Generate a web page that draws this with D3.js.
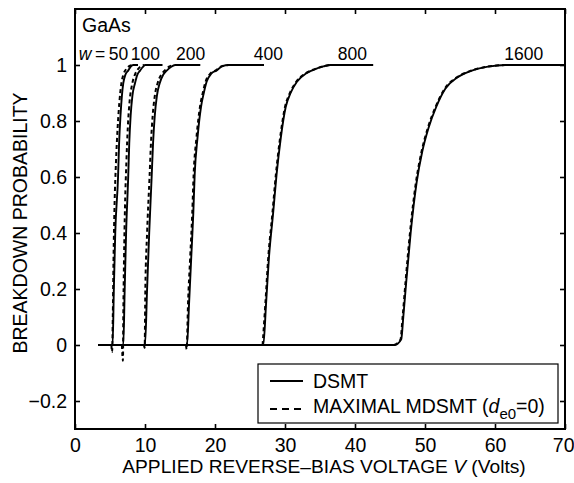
<!DOCTYPE html>
<html><head><meta charset="utf-8">
<script src="https://cdn.jsdelivr.net/npm/d3@7"></script>
<style>
body{margin:0;background:#fff;}
text{font-family:"Liberation Sans",Arial,Helvetica,sans-serif;fill:#000;}
</style></head>
<body><svg id="c" width="574" height="483"></svg>
<script>
// ---- data ----
const widths = ["50","100","200","400","800","1600"];
const labelEndV = [7.6, 12.15, 18.6, 29.7, 41.7, 66.9];
const xTicks = [0,10,20,30,40,50,60,70];
const yTicks = [-0.2,0,0.2,0.4,0.6,0.8,1];

// DSMT (solid)
const s50  = [[3.3,0],[5.37,0],[5.55,0.2],[5.75,0.4],[6.15,0.6],[6.3,0.72],[6.5,0.82],[6.7,0.89],[6.9,0.935],[7.2,0.965],[7.6,0.98],[8.0,0.995],[8.3,1],[9.0,1]];
const s100 = [[3.3,0],[6.9,0],[7.1,0.2],[7.3,0.4],[7.6,0.6],[7.75,0.72],[7.95,0.82],[8.2,0.89],[8.57,0.935],[8.9,0.965],[9.3,0.98],[9.7,0.993],[10.0,1],[12.5,1]];
const s200 = [[3.3,0],[10.0,0],[10.3,0.2],[10.6,0.4],[10.95,0.6],[11.15,0.72],[11.4,0.82],[11.7,0.89],[12.1,0.935],[12.6,0.965],[13.1,0.98],[13.7,0.993],[14.3,1],[17.9,1]];
const s400 = [[3.3,0],[16.0,0],[16.3,0.15],[16.6,0.31],[16.9,0.47],[17.1,0.61],[17.5,0.74],[18.0,0.85],[18.4,0.9],[18.8,0.94],[19.5,0.97],[20.2,0.98],[21.0,0.995],[22.0,1],[27.0,1]];
const s800 = [[3.3,0],[26.9,0],[27.3,0.15],[27.7,0.31],[28.3,0.47],[28.8,0.61],[29.4,0.74],[30.1,0.85],[30.8,0.9],[31.7,0.94],[33.0,0.97],[34.0,0.982],[35.5,0.995],[36.5,1],[42.6,1]];
const s1600= [[3.3,0],[45.7,0],[46.6,0.02],[46.9,0.1],[47.3,0.22],[47.95,0.4],[48.8,0.58],[49.6,0.69],[50.5,0.775],[51.6,0.85],[52.9,0.915],[54.6,0.955],[56.5,0.978],[59.0,0.994],[61.5,1],[70,1]];

// Maximal MDSMT (dashed)
const d50  = [[5.2,0],[5.3,-0.025],[5.4,0.1],[5.5,0.3],[5.65,0.5],[5.85,0.65],[6.1,0.78],[6.35,0.87],[6.6,0.93],[6.9,0.965],[7.3,0.985],[7.8,0.997],[8.2,1]];
const d100 = [[6.7,0],[6.85,-0.056],[6.9,0.1],[7.0,0.3],[7.15,0.5],[7.35,0.66],[7.55,0.78],[7.8,0.87],[8.15,0.93],[8.55,0.965],[9.0,0.985],[9.5,0.997],[9.9,1]];
const d200 = [[9.85,0],[9.95,-0.01],[10.05,0.2],[10.3,0.4],[10.65,0.6],[10.85,0.72],[11.1,0.82],[11.4,0.89],[11.8,0.935],[12.3,0.965],[12.8,0.98],[13.5,0.995],[14.1,1]];
const d400 = [[15.85,0],[15.95,-0.015],[16.15,0.15],[16.45,0.31],[16.75,0.47],[16.95,0.61],[17.35,0.74],[17.85,0.85],[18.25,0.9],[18.65,0.94],[19.35,0.97],[20.05,0.98],[20.9,0.995],[21.9,1]];
const d800 = [[26.8,0],[27.2,0.15],[27.6,0.31],[28.2,0.47],[28.7,0.61],[29.3,0.74],[30.0,0.85],[30.7,0.9],[31.6,0.94],[32.9,0.97],[33.9,0.982],[35.4,0.995],[36.4,1]];
const d1600= [[45.6,0],[46.5,0.02],[46.8,0.1],[47.2,0.22],[47.85,0.4],[48.7,0.58],[49.5,0.69],[50.4,0.775],[51.5,0.85],[52.8,0.915],[54.5,0.955],[56.4,0.978],[58.9,0.994],[61.4,1]];

const solidSeries = [s50,s100,s200,s400,s800,s1600];
const dashedSeries = [d50,d100,d200,d400,d800,d1600];

// ---- drawing ----
const svg = d3.select("#c");
const L=75,R=565,T=9,B=429;
const x = d3.scaleLinear().domain([0,70]).range([L,R]);
const y = d3.scaleLinear().domain([-0.3,1.2]).range([B,T]);
const FS = 19.5;

const line = d3.line().x(d=>x(d[0])).y(d=>y(d[1])).curve(d3.curveMonotoneX);

const plot = svg.append("g");
solidSeries.forEach(s=>{
  plot.append("path").attr("d",line(s)).attr("fill","none")
    .attr("stroke","#000").attr("stroke-width",1.9).attr("stroke-linejoin","round");
});
dashedSeries.forEach(s=>{
  plot.append("path").attr("d",line(s)).attr("fill","none")
    .attr("stroke","#000").attr("stroke-width",2).attr("stroke-dasharray","4,3");
});

// axes (ticks inward, mirrored)
const tl = 5;
const ax = svg.append("g");
const bx = ax.append("g").attr("transform",`translate(0,${B})`)
  .call(d3.axisBottom(x).tickValues(xTicks).tickSize(-tl).tickPadding(9).tickFormat(d3.format("d")));
bx.selectAll(".tick text").filter(d=>d===70).attr("text-anchor","end").attr("dx",9);
ax.append("g").attr("transform",`translate(0,${T})`)
  .call(d3.axisTop(x).tickValues(xTicks).tickSize(-tl).tickFormat(""));
ax.append("g").attr("transform",`translate(${L},0)`)
  .call(d3.axisLeft(y).tickValues(yTicks).tickSize(-tl).tickPadding(8)
    .tickFormat(d=> d===0?"0": d===1?"1": (d<0?"\u2212":"")+d3.format(".1f")(Math.abs(d))));
ax.append("g").attr("transform",`translate(${R},0)`)
  .call(d3.axisRight(y).tickValues(yTicks).tickSize(-tl).tickFormat(""));
ax.selectAll(".domain").remove();
ax.selectAll(".tick line").attr("stroke","#000").attr("stroke-width",1.6);
ax.selectAll("text").attr("font-size",FS).attr("font-family","Liberation Sans, Arial, sans-serif");
svg.append("rect").attr("x",L).attr("y",T).attr("width",R-L).attr("height",B-T)
  .attr("fill","none").attr("stroke","#000").attr("stroke-width",2);

// axis titles
svg.append("text").attr("x",(L+R)/2+4).attr("y",473).attr("text-anchor","middle").attr("font-size",19.2)
  .call(t=>{t.append("tspan").text("APPLIED REVERSE\u2013BIAS VOLTAGE ");
            t.append("tspan").attr("font-style","italic").text("V");
            t.append("tspan").text(" (Volts)");});
svg.append("text").attr("transform",`translate(27,${(T+B)/2+4}) rotate(-90)`)
  .attr("text-anchor","middle").attr("font-size",FS).text("BREAKDOWN PROBABILITY");

// material
svg.append("text").attr("x",82).attr("y",32).attr("font-size",FS).text("GaAs");

// curve labels
widths.forEach((w,i)=>{
  const t = svg.append("text").attr("x",x(labelEndV[i])).attr("y",60)
    .attr("text-anchor","end").attr("font-size",17.5);
  if(i===0){
    t.append("tspan").attr("font-style","italic").text("w");
    t.append("tspan").text("\u2009=\u2009"+w);
  } else t.text(w);
});

// legend
const lg = svg.append("g");
lg.append("rect").attr("x",258).attr("y",364).attr("width",300).attr("height",59)
  .attr("fill","#fff").attr("stroke","#000").attr("stroke-width",1.2);
lg.append("line").attr("x1",270).attr("x2",303).attr("y1",381).attr("y2",381)
  .attr("stroke","#000").attr("stroke-width",1.9);
lg.append("line").attr("x1",270).attr("x2",303).attr("y1",409).attr("y2",409)
  .attr("stroke","#000").attr("stroke-width",2).attr("stroke-dasharray","7,5");
lg.append("text").attr("x",313).attr("y",388).attr("font-size",FS).text("DSMT");
lg.append("text").attr("x",313).attr("y",413).attr("font-size",FS)
  .call(t=>{t.append("tspan").text("MAXIMAL MDSMT (");
            t.append("tspan").attr("font-style","italic").text("d");
            t.append("tspan").attr("font-size",15).attr("dy",6).text("e0");
            t.append("tspan").attr("dy",-6).text("=0)");});
</script></body></html>
